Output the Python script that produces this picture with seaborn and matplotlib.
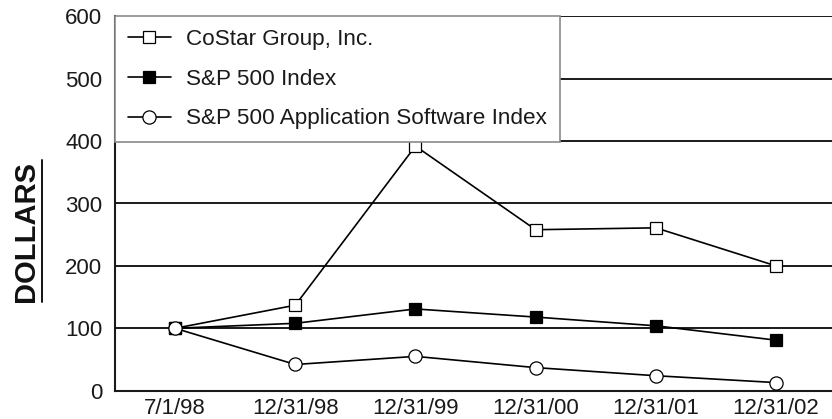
import matplotlib
matplotlib.use("Agg")
import matplotlib.pyplot as plt
import seaborn as sns
import pandas as pd
from matplotlib.lines import Line2D

dates = ["7/1/98", "12/31/98", "12/31/99", "12/31/00", "12/31/01", "12/31/02"]
costar = [100, 137, 392, 258, 261, 200]
sp500 = [100, 108, 131, 118, 104, 81]
software = [100, 42, 55, 37, 24, 13]
series_names = ["CoStar Group, Inc.", "S&P 500 Index", "S&P 500 Application Software Index"]
yticks = [0, 100, 200, 300, 400, 500, 600]

sns.set_theme(style="white")
plt.rcParams['font.family'] = ['Liberation Sans', 'DejaVu Sans']

W, H = 832, 419
fig = plt.figure(figsize=(W / 100, H / 100), dpi=100)
ax = fig.add_axes([115 / W, 1 - 390.7 / H, 1 - 115 / W, (390.7 - 16.3) / H])

styles = [
    dict(marker='s', mfc='white', ms=8.6),
    dict(marker='s', mfc='black', ms=8.6),
    dict(marker='o', mfc='white', ms=9.5),
]
for name, vals, st in zip(series_names, [costar, sp500, software], styles):
    df = pd.DataFrame({"date": dates, "value": vals})
    sns.lineplot(data=df, x="date", y="value", ax=ax, color='black', lw=1.2,
                 marker=st['marker'], markerfacecolor=st['mfc'],
                 markeredgecolor='black', markeredgewidth=0.9,
                 markersize=st['ms'], sort=False, label=name, zorder=3)

ax.set_xlim(-0.5, 5.466)
ax.set_ylim(0, 600)
ax.set_yticks(yticks)
ax.set_xlabel('')
ax.set_ylabel('')
ax.yaxis.grid(True, color='#1a1a1a', lw=1.4)
ax.xaxis.grid(False)
ax.set_axisbelow(True)
for s in ['top', 'right']:
    ax.spines[s].set_visible(False)
for s in ['left', 'bottom']:
    ax.spines[s].set_color('#1a1a1a')
    ax.spines[s].set_linewidth(1.5)
ax.tick_params(axis='y', length=0, labelsize=16, pad=9, labelcolor='#1a1a1a')
ax.tick_params(axis='x', length=0, labelsize=16, pad=5, labelcolor='#1a1a1a')

leg = ax.legend(loc='upper left', bbox_to_anchor=(0, 1), borderaxespad=0,
                frameon=True, fancybox=False, edgecolor='#8a8a8a', framealpha=1,
                fontsize=16.2, handlelength=1.9, handletextpad=0.7,
                labelspacing=0.83, borderpad=0.57)
leg.get_frame().set_linewidth(1.2)
for t in leg.get_texts():
    t.set_color('#1a1a1a')

fig.text(26 / W, 1 - 231 / H, "DOLLARS", rotation=90, ha='center', va='center',
         fontsize=21, fontweight='bold', color='#111111')
fig.add_artist(Line2D([42 / W, 42 / W], [1 - 302 / H, 1 - 160 / H],
                      transform=fig.transFigure, color='#111111', lw=1.4))

fig.savefig("out.png", dpi=100)
